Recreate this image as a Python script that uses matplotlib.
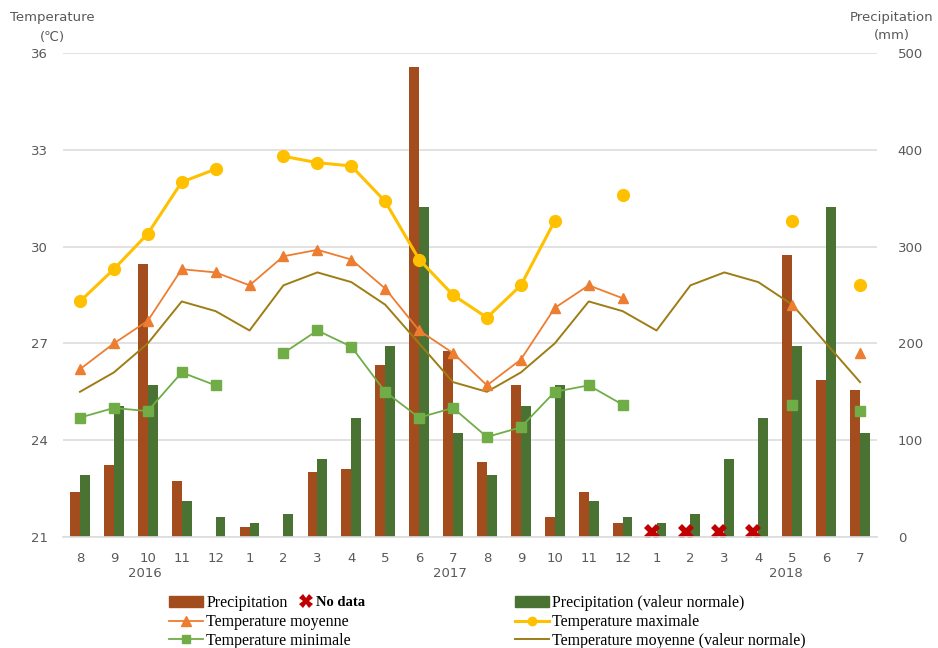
import numpy as np
import matplotlib
matplotlib.use("Agg")
from matplotlib import pyplot as plt
from matplotlib.lines import Line2D
from matplotlib.patches import Patch

nan = np.nan

months = ["8", "9", "10", "11", "12", "1", "2", "3", "4", "5", "6", "7",
          "8", "9", "10", "11", "12", "1", "2", "3", "4", "5", "6", "7"]
years = ["2016", "2017", "2018"]
year_pos = [1.9, 10.9, 20.8]

# precipitation (mm)
precip = [47, 74, 282, 58, nan, 10, nan, 67, 70, 178, 486, 192,
          77, 157, 21, 47, 14, nan, nan, nan, nan, 291, 162, 152]
precip_normal = [64, 135, 157, 37, 21, 14, 24, 81, 123, 197, 341, 107,
                 64, 135, 157, 37, 21, 14, 24, 81, 123, 197, 341, 107]
no_data = [False] * 17 + [True] * 4 + [False] * 3

# temperature (deg C)
t_max = [28.3, 29.3, 30.4, 32.0, 32.4, nan, 32.8, 32.6, 32.5, 31.4, 29.6, 28.5,
         27.8, 28.8, 30.8, nan, 31.6, nan, nan, nan, nan, 30.8, nan, 28.8]
t_moy = [26.2, 27.0, 27.7, 29.3, 29.2, 28.8, 29.7, 29.9, 29.6, 28.7, 27.4, 26.7,
         25.7, 26.5, 28.1, 28.8, 28.4, nan, nan, nan, nan, 28.2, nan, 26.7]
t_min = [24.7, 25.0, 24.9, 26.1, 25.7, nan, 26.7, 27.4, 26.9, 25.5, 24.7, 25.0,
         24.1, 24.4, 25.5, 25.7, 25.1, nan, nan, nan, nan, 25.1, nan, 24.9]
t_moy_normal = [25.5, 26.1, 27.0, 28.3, 28.0, 27.4, 28.8, 29.2, 28.9, 28.2, 27.0, 25.8,
                25.5, 26.1, 27.0, 28.3, 28.0, 27.4, 28.8, 29.2, 28.9, 28.2, 27.0, 25.8]

C_PRECIP = "#A34C1E"
C_NORMAL = "#4A7333"
C_TMOY = "#ED7D31"
C_TMAX = "#FFC000"
C_TMIN = "#70AD47"
C_TNORM = "#9E7D14"
C_TEXT = "#595959"
C_GRID = "#DDDDDD"

x = np.arange(len(months))
w = 0.29

fig = plt.figure(figsize=(9.38, 6.48), dpi=100)
ax = fig.add_axes([63 / 938, 1 - 537 / 648, 814 / 938, 484 / 648])
ax2 = ax.twinx()

# bars on the precipitation axis, kept behind the temperature lines
ax2.bar(x - w / 2, precip, w, color=C_PRECIP, zorder=2)
ax2.bar(x + w / 2, precip_normal, w, color=C_NORMAL, zorder=2)
nd = x[np.array(no_data)]
ax2.plot(nd - w / 2, [5] * len(nd), linestyle="none", marker="X", markersize=11,
         color="#C00000", markeredgewidth=0, zorder=3)
ax2.set_ylim(0, 500)
ax2.set_yticks(np.arange(0, 501, 100))
ax2.yaxis.grid(True, color=C_GRID, linewidth=1.2)
ax2.set_axisbelow(True)

ax.set_zorder(ax2.get_zorder() + 1)
ax.patch.set_visible(False)

ax.plot(x, t_moy_normal, color=C_TNORM, linewidth=1.4)
ax.plot(x, t_max, color=C_TMAX, linewidth=2.2, marker="o", markersize=8.5)
ax.plot(x, t_moy, color=C_TMOY, linewidth=1.3, marker="^", markersize=7.5)
ax.plot(x, t_min, color=C_TMIN, linewidth=1.3, marker="s", markersize=7.5)
ax.set_ylim(21, 36)
ax.set_yticks(np.arange(21, 37, 3))
ax.set_xlim(-0.5, len(months) - 0.5)
ax.set_xticks(x)
ax.set_xticklabels(months)

for a in (ax, ax2):
    for s in a.spines.values():
        s.set_visible(False)
    a.tick_params(length=0, colors=C_TEXT, labelsize=9.5)
ax.spines["bottom"].set_visible(True)
ax.spines["bottom"].set_color(C_GRID)
ax.spines["bottom"].set_linewidth(1.2)
ax.tick_params(axis="x", pad=11)
ax.tick_params(axis="y", pad=11)
ax2.tick_params(axis="y", pad=15)

for yr, px in zip(years, year_pos):
    ax.text(px, -0.075, yr, transform=ax.get_xaxis_transform(), ha="center",
            va="center", color=C_TEXT, fontsize=9.5)

fig.text(52 / 938, 1 - 17 / 648, "Temperature", ha="center", va="center",
         color=C_TEXT, fontsize=9.5)
fig.text(52 / 938, 1 - 38 / 648, "(℃)", ha="center", va="center",
         color=C_TEXT, fontsize=9.5)
fig.text(892 / 938, 1 - 17 / 648, "Precipitation", ha="center", va="center",
         color=C_TEXT, fontsize=9.5)
fig.text(892 / 938, 1 - 36 / 648, "(mm)", ha="center", va="center",
         color=C_TEXT, fontsize=9.5)

# legend in three blocks
leg_kw = dict(frameon=False, loc="upper left", handlelength=2.1,
              handletextpad=0.2, labelspacing=0.17, borderaxespad=0,
              prop={"family": "Liberation Serif", "size": 11.5})
col1 = [Patch(color=C_PRECIP),
        Line2D([], [], color=C_TMOY, linewidth=1.3, marker="^", markersize=7),
        Line2D([], [], color=C_TMIN, linewidth=1.3, marker="s", markersize=6)]
col2 = [Patch(color=C_NORMAL),
        Line2D([], [], color=C_TMAX, linewidth=2.2, marker="o", markersize=6),
        Line2D([], [], color=C_TNORM, linewidth=1.4)]
fig.legend(col1, ["Precipitation", "Temperature moyenne", "Temperature minimale"],
           bbox_to_anchor=(163 / 938, 1 - 589 / 648), **leg_kw)
fig.legend(col2, ["Precipitation (valeur normale)", "Temperature maximale",
                  "Temperature moyenne (valeur normale)"],
           bbox_to_anchor=(509 / 938, 1 - 589 / 648), **leg_kw)
nd_kw = dict(leg_kw)
nd_kw["handlelength"] = 0.9
nd_kw["prop"] = {"family": "Liberation Serif", "size": 10.5, "weight": "bold"}
fig.legend([Line2D([], [], linestyle="none", marker="X", markersize=10,
                   color="#C00000", markeredgewidth=0)], ["No data"],
           bbox_to_anchor=(294 / 938, 1 - 590 / 648), **nd_kw)

fig.savefig("out.png", dpi=100)
